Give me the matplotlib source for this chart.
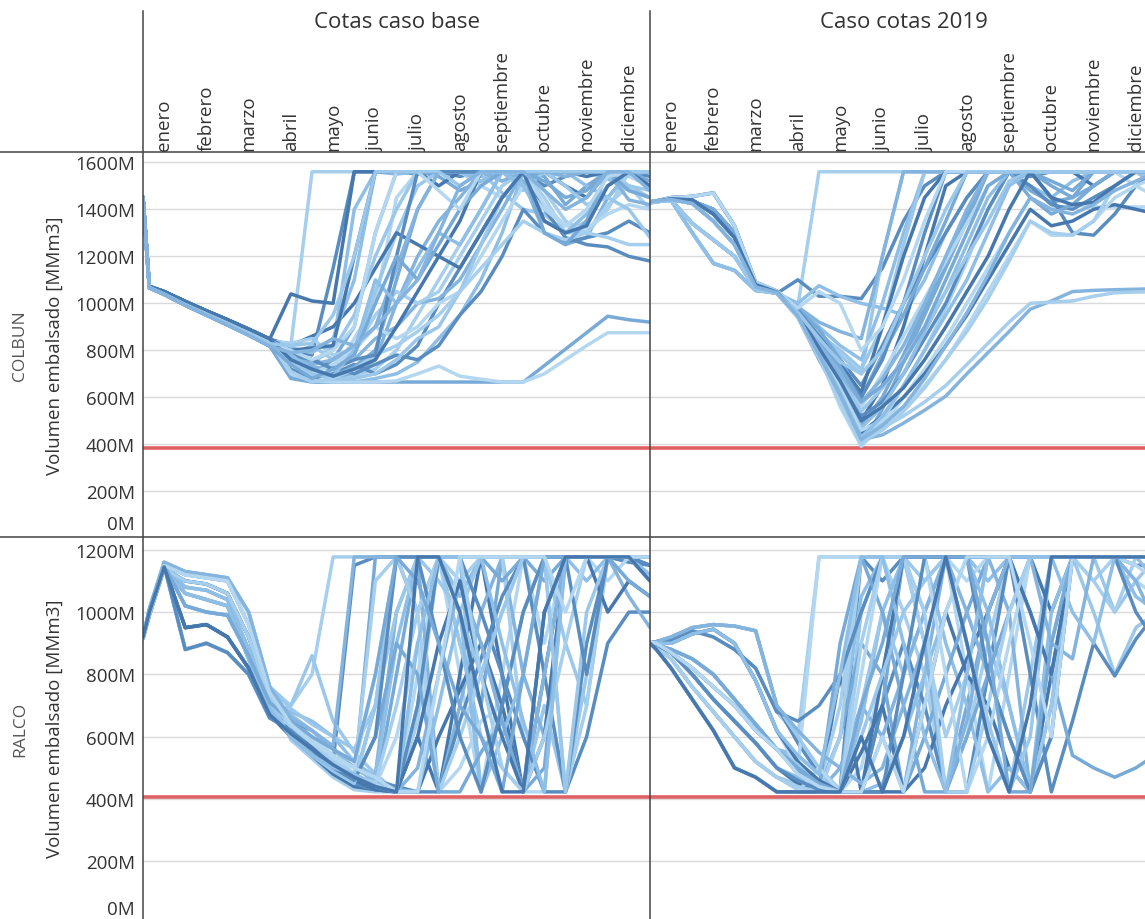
import matplotlib
matplotlib.use("Agg")
import matplotlib.pyplot as plt
from matplotlib.lines import Line2D
from matplotlib.transforms import blended_transform_factory

plt.rcParams['font.family'] = ['Open Sans', 'DejaVu Sans']

# ---------------------------------------------------------------- data
meses = ['enero', 'febrero', 'marzo', 'abril', 'mayo', 'junio', 'julio',
         'agosto', 'septiembre', 'octubre', 'noviembre', 'diciembre']
# sampling instants, in months from 1 January
meses_x = [0, 0.15, 0.5, 1, 1.5, 2, 2.5, 3, 3.5, 4, 4.5, 5, 5.5, 6, 6.5,
           7, 7.5, 8, 8.5, 9, 9.5, 10, 10.5, 11, 11.5, 12]
columnas = ['Cotas caso base', 'Caso cotas 2019']
embalses = ['COLBUN', 'RALCO']
cota_min_colbun = 383
cota_min_ralco = 407

# stored volume [MMm3] per hydrology, COLBUN, base case
colbun_base = [
    [1448,1068,1040,995,955,915,872,828, 820,1560,1560,1560,1560,1560,1560,1560,1560,1560,1560,1560,1560,1560,1560,1560,1560,1560],
    [1450,1070,1045,1002,962,922,882,840, 800,780,1150,1560,1560,1560,1550,1560,1540,1560,1560,1560,1500,1540,1560,1560,1560,1540],
    [1452,1072,1050,1008,968,930,890,848, 790,740,820,1400,1560,1550,1560,1560,1560,1540,1560,1560,1560,1560,1560,1530,1480,1450],
    [1446,1066,1038,992,950,908,865,818, 770,700,760,900,1300,1560,1560,1540,1480,1520,1560,1560,1540,1420,1500,1560,1560,1560],
    [1450,1070,1045,1002,962,922,882,840, 760,690,700,850,1000,1450,1560,1560,1560,1500,1450,1560,1560,1560,1560,1560,1540,1500],
    [1452,1072,1050,1008,968,930,890,848, 1040,1010,1000,1560,1560,1560,1560,1500,1560,1560,1560,1560,1560,1560,1540,1560,1560,1560],
    [1448,1068,1040,995,955,915,872,828, 780,820,760,780,1050,1300,1500,1560,1560,1560,1470,1400,1380,1300,1350,1560,1500,1450],
    [1446,1066,1038,992,950,908,865,818, 750,700,680,700,760,1000,1200,1350,1450,1560,1560,1520,1300,1250,1280,1450,1560,1560],
    [1450,1070,1045,1002,962,922,882,840, 700,670,665,690,720,800,950,1100,1250,1400,1560,1560,1450,1300,1300,1420,1500,1400],
    [1452,1072,1050,1008,968,930,890,848, 720,680,700,740,700,740,820,1000,1150,1300,1450,1560,1400,1280,1250,1240,1200,1180],
    [1448,1068,1040,995,955,915,872,828, 690,665,665,665,680,700,750,850,950,1100,1300,1560,1560,1560,1500,1450,1550,1560],
    [1446,1066,1038,992,950,908,865,818, 680,665,665,665,665,665,665,665,665,665,665,665,735,805,875,945,930,920],
    [1450,1070,1045,1002,962,922,882,840, 700,670,665,665,665,670,700,733,690,677,665,665,700,760,820,875,875,875],
    [1452,1072,1050,1008,968,930,890,848, 820,860,900,1000,1150,1300,1250,1200,1350,1560,1560,1560,1560,1500,1450,1560,1560,1560],
    [1448,1068,1040,995,955,915,872,828, 800,750,800,950,1200,1400,1560,1560,1560,1560,1560,1480,1560,1560,1560,1560,1500,1480],
    [1446,1066,1038,992,950,908,865,818, 760,730,720,760,850,900,1000,1020,1100,1250,1400,1560,1560,1540,1560,1560,1560,1560],
    [1450,1070,1045,1002,962,922,882,840, 830,850,780,800,950,1050,1000,1050,1200,1350,1500,1560,1480,1350,1300,1400,1560,1560],
    [1452,1072,1050,1008,968,930,890,848, 790,760,730,700,740,780,760,820,950,1050,1200,1400,1300,1260,1280,1300,1350,1300],
    [1448,1068,1040,995,955,915,872,828, 810,790,850,1100,1560,1560,1560,1560,1560,1520,1560,1560,1560,1560,1560,1560,1560,1560],
    [1446,1066,1038,992,950,908,865,818, 770,720,690,730,800,1100,1400,1560,1560,1560,1560,1560,1520,1450,1480,1560,1560,1520],
    [1450,1070,1045,1002,962,922,882,840, 740,700,740,800,900,850,900,1000,1050,1200,1350,1500,1400,1330,1320,1380,1420,1400],
    [1452,1072,1050,1008,968,930,890,848, 800,810,820,1200,1560,1560,1560,1560,1560,1560,1560,1560,1560,1560,1560,1560,1560,1560],
    [1448,1068,1040,995,955,915,872,828, 760,700,680,680,700,760,850,900,1050,1250,1450,1560,1560,1500,1420,1450,1400,1280],
    [1446,1066,1038,992,950,908,865,818, 790,740,760,820,900,1150,1400,1560,1560,1560,1520,1560,1560,1560,1560,1560,1440,1420],
    [1450,1070,1045,1002,962,922,882,840, 710,665,680,720,780,820,880,950,1050,1150,1250,1350,1300,1270,1300,1280,1250,1250],
    [1452,1072,1050,1008,968,930,890,848, 780,760,720,760,780,1200,1560,1560,1560,1560,1560,1560,1560,1560,1560,1560,1560,1560],
    [1448,1068,1040,995,955,915,872,828, 780,720,690,800,1100,1000,1150,1300,1250,1400,1560,1500,1350,1300,1380,1500,1560,1560],
    [1446,1066,1038,992,950,908,865,818, 740,680,720,780,1000,1200,1100,1250,1400,1500,1560,1560,1300,1250,1350,1560,1480,1450],
    [1450,1070,1045,1002,962,922,882,840, 800,760,800,900,1300,1560,1560,1480,1400,1560,1560,1560,1420,1330,1400,1540,1560,1560],
    [1452,1072,1050,1008,968,930,890,848, 760,720,690,720,760,900,1050,1200,1150,1300,1450,1560,1350,1300,1330,1500,1560,1500],
    [1448,1068,1040,995,955,915,872,828, 820,830,950,1200,1560,1560,1560,1560,1500,1560,1560,1560,1560,1560,1560,1560,1560,1560],
    [1446,1066,1038,992,950,908,865,818, 790,800,850,820,900,1000,1100,1300,1500,1560,1560,1560,1480,1400,1450,1560,1560,1480],
]

# COLBUN, 2019 levels case
colbun_2019 = [
    [1432,1436,1442,1425,1350,1250,1070,1046, 990,1560,1560,1560,1560,1560,1560,1560,1560,1560,1560,1560,1560,1560,1560,1560,1560,1560],
    [1428,1432,1440,1340,1270,1200,1060,1042, 1100,1030,1030,1020,1150,1350,1500,1560,1560,1560,1560,1540,1560,1560,1560,1560,1560,1560],
    [1430,1434,1438,1300,1170,1140,1055,1044, 1000,1075,1030,1000,980,950,1100,1300,1450,1560,1560,1500,1450,1520,1560,1560,1560,1500],
    [1430,1435,1445,1440,1380,1280,1080,1048, 960,820,600,392,550,750,950,1150,1350,1560,1560,1480,1430,1450,1560,1560,1560,1560],
    [1428,1432,1440,1340,1270,1200,1060,1042, 950,780,560,392,480,600,720,850,1000,1150,1300,1450,1400,1420,1410,1410,1410,1410],
    [1430,1434,1444,1435,1400,1300,1085,1050, 970,850,700,500,650,900,1200,1500,1560,1560,1560,1560,1560,1560,1500,1560,1560,1560],
    [1430,1436,1450,1455,1470,1330,1090,1052, 975,880,780,700,1200,1560,1560,1560,1560,1560,1560,1560,1560,1560,1560,1560,1560,1560],
    [1430,1434,1438,1300,1170,1140,1055,1044, 940,760,600,420,440,490,545,605,700,790,880,975,1010,1050,1055,1058,1060,1062],
    [1428,1432,1440,1340,1270,1200,1060,1042, 945,780,620,440,470,520,580,650,740,830,920,1000,1005,1010,1030,1045,1048,1050],
    [1432,1436,1442,1425,1350,1250,1070,1046, 960,860,760,650,820,1000,1150,1300,1450,1560,1560,1560,1450,1300,1290,1380,1500,1560],
    [1430,1435,1445,1440,1380,1280,1080,1048, 980,900,820,760,1000,1300,1560,1560,1560,1560,1560,1560,1560,1560,1560,1560,1560,1560],
    [1430,1434,1444,1435,1400,1300,1085,1050, 955,800,650,480,600,780,980,1180,1380,1560,1560,1560,1520,1480,1560,1560,1560,1560],
    [1432,1436,1442,1425,1350,1250,1070,1046, 965,840,720,560,700,860,1020,1180,1340,1500,1560,1560,1560,1560,1560,1560,1500,1450],
    [1428,1432,1440,1340,1270,1200,1060,1042, 950,800,640,450,520,600,700,820,950,1100,1250,1400,1330,1350,1400,1420,1400,1380],
    [1430,1436,1450,1455,1470,1330,1090,1052, 970,870,800,720,900,1250,1560,1560,1560,1560,1560,1560,1560,1560,1560,1560,1560,1560],
    [1430,1435,1445,1440,1380,1280,1080,1048, 985,920,880,850,1200,1560,1560,1560,1560,1560,1560,1560,1560,1560,1560,1560,1560,1560],
    [1430,1434,1438,1300,1170,1140,1055,1044, 940,770,580,400,500,650,800,980,1180,1400,1560,1560,1560,1560,1560,1560,1560,1560],
    [1430,1434,1444,1435,1400,1300,1085,1050, 960,830,680,520,580,700,850,1000,1200,1400,1560,1500,1420,1400,1450,1500,1560,1560],
    [1432,1436,1442,1425,1350,1250,1070,1046, 950,810,660,470,560,700,880,1050,1250,1450,1560,1560,1560,1560,1560,1560,1560,1560],
    [1430,1435,1445,1440,1380,1280,1080,1048, 975,890,760,600,780,950,1150,1350,1560,1560,1560,1450,1380,1420,1500,1560,1560,1560],
    [1428,1432,1440,1340,1270,1200,1060,1042, 945,790,640,460,500,560,650,760,900,1050,1200,1350,1290,1290,1350,1450,1500,1540],
    [1430,1436,1450,1455,1470,1330,1090,1052, 965,860,740,620,900,1200,1450,1560,1560,1560,1560,1560,1560,1560,1560,1560,1560,1560],
    [1430,1434,1438,1300,1170,1140,1055,1044, 955,820,690,540,640,760,900,1050,1200,1350,1520,1560,1560,1560,1560,1560,1560,1530],
    [1430,1434,1444,1435,1400,1300,1085,1050, 960,840,700,580,680,820,1000,1200,1400,1560,1560,1560,1560,1560,1560,1560,1560,1560],
    [1432,1436,1442,1425,1350,1250,1070,1046, 945,770,600,410,460,540,640,760,880,1020,1180,1350,1300,1290,1350,1500,1560,1560],
    [1430,1435,1445,1440,1380,1280,1080,1048, 970,860,730,600,760,1000,1300,1560,1560,1560,1560,1560,1560,1560,1560,1560,1560,1560],
    [1430,1434,1438,1300,1170,1140,1055,1044, 950,790,620,430,520,650,800,950,1100,1300,1500,1560,1560,1560,1560,1560,1560,1560],
    [1430,1434,1444,1435,1400,1300,1085,1050, 965,850,730,580,650,750,900,1100,1300,1500,1560,1560,1500,1450,1500,1560,1560,1560],
    [1430,1436,1450,1455,1470,1330,1090,1052, 980,1050,1000,800,900,1100,1350,1560,1560,1560,1560,1560,1560,1560,1560,1560,1560,1560],
    [1430,1435,1445,1440,1380,1280,1080,1048, 955,810,670,500,560,640,760,900,1050,1200,1400,1560,1450,1420,1430,1500,1560,1560],
    [1428,1432,1440,1340,1270,1200,1060,1042, 960,850,750,700,800,1000,1200,1400,1560,1560,1560,1560,1560,1560,1560,1560,1560,1560],
    [1432,1436,1442,1425,1350,1250,1070,1046, 945,780,610,420,480,560,680,820,960,1120,1300,1450,1400,1380,1420,1480,1520,1560],
]

# RALCO, base case
ralco_base = [
    [920,1010,1160,1130,1120,1110,1000,760, 700,800,1177,1177,1177,1177,1177,1177,1177,1177,1177,1177,1177,1177,1177,1177,1177,1177],
    [925,1000,1150,1120,1110,1100,960,740, 640,580,520,1150,1177,1177,1000,1177,1177,1177,1177,1177,1177,1177,1177,1177,1160,1150],
    [915,990,1140,1100,1090,1060,920,720, 620,560,500,460,700,1177,1177,1177,1050,1177,1177,1177,1177,1177,1177,1177,1177,1120],
    [920,1000,1145,1080,1070,1040,880,700, 600,540,480,440,430,800,1177,1177,900,700,1177,1177,1100,1177,1177,1177,1177,1100],
    [918,995,1140,1060,1040,1020,850,690, 660,600,540,480,450,423,800,1177,800,423,800,1177,900,1177,1177,1177,1100,1050],
    [920,1000,1150,880,900,870,800,660, 630,570,500,450,430,423,600,423,800,1177,800,423,800,1177,1177,1177,1177,1150],
    [920,1000,1145,950,960,920,820,670, 700,860,650,550,480,423,700,1177,900,600,500,423,700,423,800,1177,1177,1177],
    [920,1005,1150,1020,1000,990,860,710, 610,550,490,450,480,1000,1177,423,700,1000,1177,800,600,1177,1177,1177,1177,1177],
    [925,1000,1150,1120,1110,1100,960,740, 590,530,470,430,423,423,650,1177,1100,1177,1177,600,423,1177,1177,1177,1177,1177],
    [915,990,1140,1100,1090,1060,920,720, 650,620,560,500,460,440,423,423,650,850,1050,1177,800,423,600,900,1000,1000],
    [920,1000,1145,1080,1070,1040,880,700, 680,650,600,520,470,900,1177,1177,1177,423,700,1000,1177,1177,1177,1177,1177,1177],
    [918,995,1140,1060,1040,1020,850,690, 620,560,500,460,1177,1177,1177,1177,1177,1177,1100,1177,1177,1177,1177,1177,1177,1177],
    [920,1000,1150,880,900,870,800,660, 640,600,540,470,440,600,900,423,500,650,700,423,423,1177,1177,1100,1177,1177],
    [920,1000,1145,950,960,920,820,670, 600,540,480,440,430,423,423,600,750,900,700,423,600,1177,1177,1177,1177,1177],
    [920,1010,1160,1130,1120,1110,1000,760, 690,640,600,560,700,1000,1177,1100,1000,1177,1177,1177,1177,900,700,1177,1177,1100],
    [920,1005,1150,1020,1000,990,860,710, 630,580,520,470,440,423,500,800,1100,900,650,423,800,1177,1177,1177,1050,950],
    [925,1000,1150,1120,1110,1100,960,740, 650,590,530,480,1100,1177,1000,423,600,800,1000,1177,1177,423,700,1177,1177,1177],
    [915,990,1140,1100,1090,1060,920,720, 610,560,500,450,430,423,700,1177,1177,1000,800,600,423,423,900,1177,1177,1150],
    [920,1000,1145,1080,1070,1040,880,700, 670,620,560,500,460,430,423,700,1000,423,600,800,1177,1177,1100,1177,1177,1177],
    [918,995,1140,1060,1040,1020,850,690, 600,550,500,460,600,900,800,423,423,550,650,423,500,1177,1177,1177,1177,1177],
    [920,1000,1150,880,900,870,800,660, 640,590,530,500,800,1177,1177,1177,1177,1177,1177,1177,1177,1177,1177,1177,1177,1177],
    [920,1000,1145,950,960,920,820,670, 620,570,510,460,430,423,600,900,1100,800,600,423,1000,1177,1177,1000,1100,1050],
    [920,1005,1150,1020,1000,990,860,710, 600,540,490,450,700,1177,1177,1177,1000,800,1000,1177,1177,423,1000,1177,1177,1177],
    [920,1010,1160,1130,1120,1110,1000,760, 660,620,570,1177,1177,1177,1177,1177,1177,1177,1177,1177,1177,1177,1177,1177,1177,1177],
    [915,990,1140,1100,1090,1060,920,720, 630,580,520,480,450,700,1000,1177,1177,800,500,423,600,900,1177,1177,1177,1100],
    [920,1000,1150,880,900,870,800,660, 620,560,500,460,600,1177,1177,900,600,423,700,1000,1177,1177,800,1177,1177,1177],
    [918,995,1140,1060,1040,1020,850,690, 600,540,500,480,440,423,900,1177,1177,1177,900,650,423,1177,1177,1177,1177,1177],
    [920,1005,1150,1020,1000,990,860,710, 650,600,560,520,800,1177,1100,900,700,600,423,800,1177,1177,1177,1177,1100,1050],
    [925,1000,1150,1120,1110,1100,960,740, 640,580,540,500,470,423,423,800,1177,1177,1177,1177,1177,1000,1177,1177,1177,1177],
    [920,1000,1145,950,960,920,820,670, 610,560,510,470,440,423,1177,1177,1000,700,423,423,1000,1177,1177,1177,1177,1100],
]

# RALCO, 2019 levels case
ralco_2019 = [
    [902,905,910,940,920,880,820,680, 600,1177,1177,1177,1177,1177,1177,1177,1177,1177,1177,1177,1177,1177,1177,1177,1177,1177],
    [900,905,920,950,960,955,940,700, 580,480,430,1177,1100,1177,1177,1177,1177,1177,1177,1177,1177,1177,1177,1177,1150,1150],
    [895,900,900,930,945,900,780,620, 520,440,600,1050,1177,1177,1000,1177,1177,1100,1177,1177,1177,1177,1177,1177,1177,1100],
    [905,900,870,820,760,700,620,560, 500,430,423,423,700,1177,900,423,700,1000,1177,1177,1177,1177,1177,1177,1177,1177],
    [900,890,850,760,680,600,520,470, 450,423,423,500,800,1177,1177,1177,800,423,800,1177,1177,1177,1177,1177,1100,1050],
    [900,880,820,720,620,500,470,423, 423,423,800,423,423,423,700,1000,800,700,500,423,800,1177,1177,1177,1177,1177],
    [900,895,880,850,800,720,640,560, 520,450,423,1000,1177,1177,1100,1177,900,600,423,800,1177,1177,1000,800,950,1000],
    [898,895,870,800,720,650,580,500, 460,423,500,700,600,423,800,1177,1177,1177,1000,423,700,1177,1177,1177,1177,1177],
    [905,900,870,820,760,700,620,560, 480,440,700,1177,1177,1000,800,423,600,900,1177,1177,1177,1177,1100,1177,1177,1177],
    [900,890,850,760,680,600,520,470, 440,423,423,423,700,900,700,423,423,800,1177,800,423,650,900,795,913,1000],
    [900,895,880,850,800,720,640,560, 540,480,423,650,1000,1177,1177,900,700,423,500,423,600,1177,1177,1177,1177,1177],
    [900,880,820,720,620,500,470,423, 423,423,600,900,800,423,600,800,1000,1177,1177,1000,800,540,500,470,500,545],
    [895,900,900,930,945,900,780,620, 500,1177,1177,1177,1177,1177,1177,1177,1100,1177,1177,1177,1177,1177,1177,1177,1177,1177],
    [898,895,870,800,720,650,580,500, 450,423,423,550,700,423,500,700,850,1000,1177,1177,1000,1177,1177,1177,1177,1177],
    [900,905,920,950,960,955,940,700, 600,500,430,700,1000,800,1000,1177,1177,900,700,423,700,1177,1177,1000,1100,1177],
    [900,895,880,850,800,720,640,560, 500,440,423,423,600,800,1000,1177,1000,800,600,423,900,1177,1177,1177,1177,1177],
    [900,890,850,760,680,600,520,470, 430,423,600,1177,1177,1177,900,600,800,1177,1177,1177,1177,1177,1100,1000,1177,1177],
    [902,905,910,940,920,880,820,680, 650,700,800,1000,1177,1177,1177,1177,1177,1177,1177,1177,1177,1177,1177,1177,1177,1177],
    [898,895,870,800,720,650,580,500, 470,423,423,423,450,600,800,1000,1177,1000,700,423,1000,1177,1177,1177,1050,1000],
    [905,900,870,820,760,700,620,560, 490,430,900,1177,1000,700,423,423,600,800,1000,1177,1177,1177,1177,1177,1177,1177],
    [900,880,820,720,620,500,470,423, 423,500,423,800,1177,1177,1177,800,423,600,900,1177,1177,1177,1177,1177,1150,1100],
    [895,900,900,930,945,900,780,620, 520,460,423,423,800,1177,1177,1177,1177,1177,1177,1000,800,1177,1177,1177,1177,1177],
    [900,895,880,850,800,720,640,560, 510,440,423,600,800,1000,1100,1177,900,650,423,600,1177,1177,1177,1177,1177,1177],
    [900,905,920,950,960,955,940,700, 620,550,500,450,500,700,900,423,650,1000,1177,1177,900,850,1177,1177,1100,950],
    [900,890,850,760,680,600,520,470, 440,423,423,900,1177,1177,1000,423,423,700,1000,1177,1177,1177,1177,1177,1177,1177],
    [898,895,870,800,720,650,580,500, 460,430,423,423,423,800,1177,1177,1177,800,600,423,600,1177,1177,1177,1000,900],
    [895,900,900,930,945,900,780,620, 540,480,800,1177,1177,900,600,423,800,1177,1177,1177,1177,1000,900,1177,1177,1177],
    [900,895,880,850,800,720,640,560, 500,450,423,700,900,1177,1177,1177,1177,900,423,423,900,1177,1177,1177,1177,1177],
    [905,900,870,820,760,700,620,560, 480,440,423,423,600,423,700,1000,1177,1177,1177,900,600,1177,1177,1177,1177,1177],
    [900,880,820,720,620,500,470,423, 423,423,423,600,423,600,900,1177,900,600,423,700,1177,1177,1177,1177,1177,1177],
]

# ---------------------------------------------------------------- style
tonos = ['#a6ceed', '#5a8dbf', '#8fbfe6', '#78aad8',
         '#b4d7f1', '#4678ae', '#9bc7ea', '#84b4de']
color_cota = '#dc5053'
color_texto = '#333333'
color_grilla = '#dadada'
color_borde = '#444444'

W, H = 1145, 920
fig = plt.figure(figsize=(W / 100, H / 100), dpi=100)
fig.patch.set_facecolor('white')


def caja(x0, y0, x1, y1):
    return [x0 / W, 1 - y1 / H, (x1 - x0) / W, (y1 - y0) / H]


paneles = [
    [colbun_base, colbun_2019],
    [ralco_base, ralco_2019],
]
cotas = [cota_min_colbun, cota_min_ralco]
limites = [(5.5, 1644), (15, 1241)]
ticks = [[200, 400, 600, 800, 1000, 1200, 1400, 1600],
         [200, 400, 600, 800, 1000, 1200]]
cero_y = [61, 47]
filas_px = [(153, 538), (538, 920)]
cols_px = [(143, 650), (650, 1157)]

for f in range(2):
    for c in range(2):
        ax = fig.add_axes(caja(cols_px[c][0], filas_px[f][0],
                               cols_px[c][1], filas_px[f][1]))
        ax.set_xlim(0, 12)
        ax.set_ylim(*limites[f])
        for s in ax.spines.values():
            s.set_visible(False)
        ax.set_xticks([])
        ax.set_yticks(ticks[f])
        ax.yaxis.grid(True, color=color_grilla, lw=1.0, zorder=0)
        ax.set_axisbelow(True)
        ax.tick_params(axis='y', length=0, pad=5.5,
                       labelsize=13.5, labelcolor=color_texto)
        if c == 0:
            ax.set_yticklabels([f'{v}M' for v in ticks[f]])
            tr = blended_transform_factory(ax.transAxes, ax.transData)
            ax.text(-0.016, cero_y[f], '0M', transform=tr, ha='right',
                    va='center', fontsize=13.5, color=color_texto)
        else:
            ax.set_yticklabels([])

        ax.axhline(cotas[f], color=color_cota, lw=2.6, alpha=0.9, zorder=1.5)

        for i, serie in enumerate(paneles[f][c]):
            ax.plot(meses_x, serie, color=tonos[i % len(tonos)], lw=2.5,
                    solid_joinstyle='round', solid_capstyle='round', zorder=2)

        if f == 0:
            tr = blended_transform_factory(ax.transData, ax.transAxes)
            for k, mes in enumerate(meses):
                ax.text(k + 0.5, 1.006, mes, rotation=90, ha='center',
                        va='bottom', transform=tr, fontsize=13.5,
                        color=color_texto, clip_on=False)

# column titles
fig.text(396.5 / W, 1 - 23 / H, columnas[0], ha='center', va='center',
         fontsize=16, color=color_texto)
fig.text(903.5 / W, 1 - 23 / H, columnas[1], ha='center', va='center',
         fontsize=16, color=color_texto)

# row titles
for f, nombre in enumerate(embalses):
    yc = 1 - (filas_px[f][0] + filas_px[f][1]) / 2 / H
    fig.text(20 / W, yc, nombre, rotation=90, ha='center', va='center',
             fontsize=12.5, color='#555555')
    fig.text(55 / W, yc, 'Volumen embalsado [MMm3]', rotation=90,
             ha='center', va='center', fontsize=13.5, color=color_texto)

# header and pane separators
for xp in (143, 650):
    fig.add_artist(Line2D([xp / W, xp / W], [1 - 12 / H, 0],
                          color=color_borde, lw=1.1))
for yp in (153, 538):
    fig.add_artist(Line2D([0, 1], [1 - yp / H, 1 - yp / H],
                          color=color_borde, lw=1.1))

fig.savefig('out.png', dpi=100)
